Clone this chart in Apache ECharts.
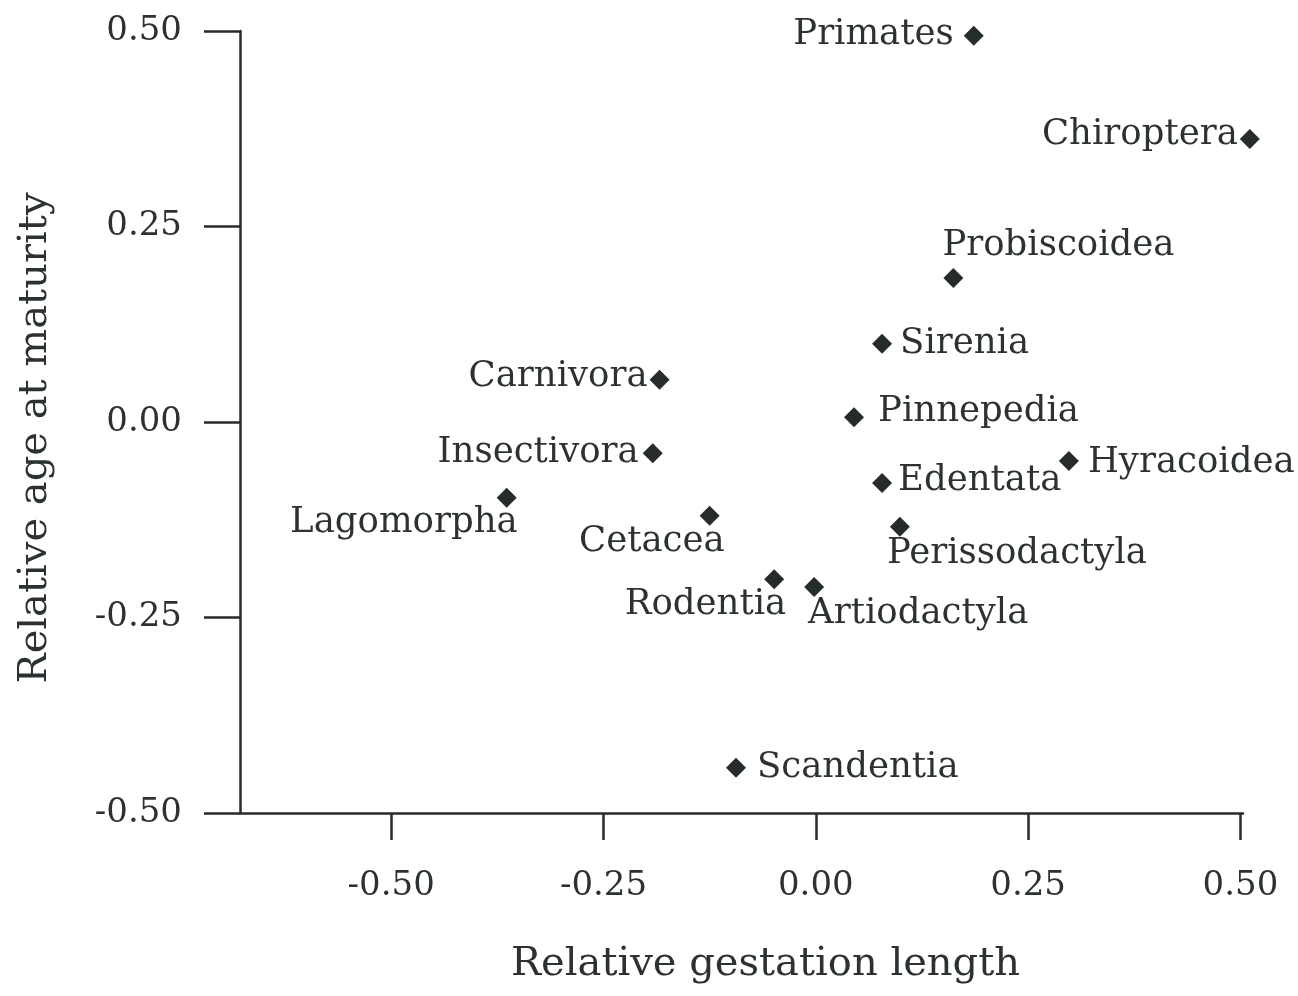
<!DOCTYPE html>
<html>
<head>
<meta charset="utf-8">
<script src="https://cdn.jsdelivr.net/npm/echarts@6/dist/echarts.min.js"></script>
<style>html,body{margin:0;padding:0;background:#fff}#c{width:1298px;height:996px}</style>
</head>
<body>
<div id="c"></div>
<script>
const names = ["Primates","Chiroptera","Probiscoidea","Sirenia","Carnivora","Pinnepedia","Insectivora","Hyracoidea","Edentata","Lagomorpha","Cetacea","Perissodactyla","Rodentia","Artiodactyla","Scandentia"];
const gestation = [0.186,0.511,0.162,0.078,-0.184,0.045,-0.192,0.298,0.078,-0.364,-0.125,0.099,-0.049,-0.002,-0.094];
const maturity = [0.494,0.362,0.184,0.100,0.054,0.006,-0.040,-0.050,-0.078,-0.097,-0.120,-0.134,-0.201,-0.211,-0.442];
const xTicks = [-0.5,-0.25,0,0.25,0.5];
const yTicks = [-0.5,-0.25,0,0.25,0.5];
// label placement: [align, dx, dy]
const labelPlace = {
  Primates:["right",-20,-1], Chiroptera:["right",-12,-4], Probiscoidea:["left",-11,-32],
  Sirenia:["left",18,0], Carnivora:["right",-12,-3], Pinnepedia:["left",24,-6],
  Insectivora:["right",-14,0], Hyracoidea:["left",19,2], Edentata:["left",16,-2],
  Lagomorpha:["right",11,25], Cetacea:["right",15,26], Perissodactyla:["left",-13,27],
  Rodentia:["right",12,26], Artiodactyla:["left",-6,27], Scandentia:["left",21,0]
};
const ink = '#262c29';
const txt = '#2c322f';
const font = 'DejaVu Serif';
const data = names.map((n,i)=>{
  const p = labelPlace[n];
  return {name:n, value:[gestation[i], maturity[i]],
    label:{show:true, position:'inside', align:p[0], verticalAlign:'middle', offset:[p[1],p[2]],
      formatter:n, fontFamily:font, fontSize:35.5, color:txt, opacity:1}};
});
const chart = echarts.init(document.getElementById('c'), null, {renderer:'canvas'});
chart.setOption({
  animation:false,
  backgroundColor:'#fff',
  grid:{left:240, right:55, top:31, bottom:183, containLabel:false, outerBoundsMode:'none'},
  xAxis:{type:'value', min:-0.678, max:0.503,
    splitLine:{show:false},
    axisLine:{show:true, onZero:false, lineStyle:{color:ink, width:2.5}},
    axisTick:{show:true, inside:false, length:27, customValues:xTicks, lineStyle:{color:ink, width:2.5}},
    axisLabel:{customValues:xTicks, margin:56, fontFamily:font, fontSize:34, color:txt,
      formatter:v=>v.toFixed(2)},
    name:'Relative gestation length', nameLocation:'middle', nameGap:132,
    nameTextStyle:{fontFamily:font, fontSize:40, color:txt, padding:[0,0,0,48]}
  },
  yAxis:{type:'value', min:-0.5, max:0.5, interval:0.25,
    splitLine:{show:false},
    axisLine:{show:true, onZero:false, lineStyle:{color:ink, width:2.5}},
    axisTick:{show:true, inside:false, length:36, lineStyle:{color:ink, width:2.5}},
    axisLabel:{margin:58, fontFamily:font, fontSize:34, color:txt,
      formatter:v=>v.toFixed(2)},
    name:'Relative age at maturity', nameLocation:'middle', nameGap:184, nameRotate:90,
    nameTextStyle:{fontFamily:font, fontSize:40, color:txt, padding:[0,32,0,0]}
  },
  series:[{type:'scatter', clip:false, symbol:'diamond', symbolSize:20,
    itemStyle:{color:ink, opacity:1}, data:data}]
});
</script>
</body>
</html>
